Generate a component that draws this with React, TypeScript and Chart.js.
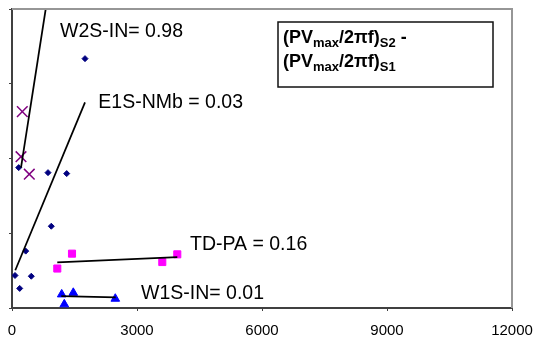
import React, { useEffect, useRef } from "react";
import { Chart, registerables } from "chart.js";

Chart.register(...registerables);

const FONT = '"Liberation Sans", Arial, Helvetica, sans-serif';

// X axis ticks
const xTicks = [0, 3000, 6000, 9000, 12000];
const xMin = 0;
const xMax = 12000;
const yMin = 0;
const yMax = 4;
const yStep = 1;

// Series: navy diamonds
const diamondX = [1752, 161, 864, 1313, 943, 329, 72, 463, 185];
const diamondY = [3.336, 1.878, 1.811, 1.798, 1.094, 0.761, 0.435, 0.425, 0.262];

// Series: purple crosses
const crossX = [247, 216, 415];
const crossY = [2.627, 2.024, 1.79];

// Series: magenta squares
const squareX = [1440, 1087, 3607, 3967];
const squareY = [0.727, 0.528, 0.615, 0.718];

// Series: blue triangles
const triX = [1193, 1471, 1255, 2479];
const triY = [0.182, 0.203, 0.049, 0.124];

// Trend lines (start, end) and their labels
const trendNames = ["W2S-IN= 0.98", "E1S-NMb = 0.03", "TD-PA = 0.16", "W1S-IN= 0.01"];
const trendX = [
  [216, 809],
  [79, 1752],
  [1087, 3967],
  [1183, 2489],
];
const trendY = [
  [1.878, 4.0],
  [0.505, 2.751],
  [0.611, 0.682],
  [0.159, 0.142],
];
const labelX = [1152, 2071, 4272, 3096];
const labelY = [3.628, 2.675, 0.771, 0.12];

// Legend box text: [text, isSubscript]
const boxLine1: [string, boolean][] = [
  ["(PV", false],
  ["max", true],
  ["/2\u03C0f)", false],
  ["S2", true],
  [" -", false],
];
const boxLine2: [string, boolean][] = [
  ["(PV", false],
  ["max", true],
  ["/2\u03C0f)", false],
  ["S1", true],
];

const zip = (xs: number[], ys: number[]) => xs.map((x, i) => ({ x, y: ys[i] }));

const overlayPlugin = {
  id: "overlay",
  afterDraw(chart: any) {
    const { ctx, chartArea: a, scales } = chart;
    ctx.save();
    // gray plot-area border (top & right)
    ctx.strokeStyle = "#969696";
    ctx.lineWidth = 2;
    ctx.beginPath();
    ctx.moveTo(a.left, a.top);
    ctx.lineTo(a.right, a.top);
    ctx.lineTo(a.right, a.bottom);
    ctx.stroke();

    // trend labels
    ctx.fillStyle = "#000";
    ctx.font = `19.5px ${FONT}`;
    ctx.textAlign = "left";
    ctx.textBaseline = "alphabetic";
    trendNames.forEach((t, i) => {
      ctx.fillText(t, scales.x.getPixelForValue(labelX[i]), scales.y.getPixelForValue(labelY[i]));
    });

    // legend box
    const bx = a.right - 234;
    const by = a.top + 13;
    const bw = 215;
    const bh = 65;
    ctx.fillStyle = "#fff";
    ctx.fillRect(bx, by, bw, bh);
    ctx.strokeStyle = "#111";
    ctx.lineWidth = 1.5;
    ctx.strokeRect(bx, by, bw, bh);
    ctx.fillStyle = "#000";
    const drawRich = (segs: [string, boolean][], x: number, y: number) => {
      let cx = x;
      segs.forEach(([t, sub]) => {
        ctx.font = sub ? `bold 13px ${FONT}` : `bold 18px ${FONT}`;
        ctx.fillText(t, cx, y + (sub ? 4 : 0));
        cx += ctx.measureText(t).width;
      });
    };
    drawRich(boxLine1, bx + 5, by + 21);
    drawRich(boxLine2, bx + 5, by + 45);
    ctx.restore();
  },
};

export default function App() {
  const ref = useRef<HTMLCanvasElement | null>(null);

  useEffect(() => {
    if (!ref.current) return;
    const lineDatasets = trendX.map((xs, i) => ({
      label: trendNames[i],
      data: zip(xs, trendY[i]),
      showLine: true,
      borderColor: "#000",
      borderWidth: 1.75,
      pointRadius: 0,
      fill: false,
      order: 0,
    }));
    const chart = new Chart(ref.current, {
      type: "scatter",
      data: {
        datasets: [
          ...lineDatasets,
          {
            label: "diamonds",
            data: zip(diamondX, diamondY),
            pointStyle: "rectRot",
            pointRadius: 3,
            backgroundColor: "#000080",
            borderColor: "#000080",
            borderWidth: 1,
            order: 1,
          },
          {
            label: "crosses",
            data: zip(crossX, crossY),
            pointStyle: "crossRot",
            pointRadius: 7.5,
            backgroundColor: "#800080",
            borderColor: "#800080",
            borderWidth: 1.5,
            order: 1,
          },
          {
            label: "squares",
            data: zip(squareX, squareY),
            pointStyle: "rect",
            pointRadius: 5,
            backgroundColor: "#FF00FF",
            borderColor: "#FF00FF",
            borderWidth: 1,
            order: 1,
          },
          {
            label: "triangles",
            data: zip(triX, triY),
            pointStyle: "triangle",
            pointRadius: 5,
            backgroundColor: "#0000FF",
            borderColor: "#0000FF",
            borderWidth: 1,
            order: 1,
          },
        ] as any,
      },
      options: {
        animation: false,
        responsive: true,
        maintainAspectRatio: false,
        layout: { padding: { top: 7, right: 34, left: 0, bottom: 0 } },
        plugins: {
          legend: { display: false },
          tooltip: { enabled: false },
        },
        scales: {
          x: {
            type: "linear",
            min: xMin,
            max: xMax,
            afterBuildTicks: (s: any) => {
              s.ticks = xTicks.map((v) => ({ value: v }));
            },
            ticks: {
              color: "#000",
              font: { size: 15, family: FONT },
              padding: 11,
              maxRotation: 0,
              autoSkip: false,
              callback: (v: any) => String(v),
            },
            grid: {
              drawOnChartArea: false,
              drawTicks: true,
              tickLength: 3,
              color: "#404040",
              lineWidth: 1,
            },
            border: { color: "#404040", width: 2 },
            afterFit: (s: any) => {
              s.height = 39;
              s.paddingLeft = 0;
              s.paddingRight = 0;
            },
          },
          y: {
            type: "linear",
            min: yMin,
            max: yMax,
            ticks: { stepSize: yStep, display: false },
            grid: {
              drawOnChartArea: false,
              drawTicks: true,
              tickLength: 3,
              color: "#404040",
              lineWidth: 1,
            },
            border: { color: "#404040", width: 2 },
            afterFit: (s: any) => {
              s.width = 12;
            },
          },
        },
      } as any,
      plugins: [overlayPlugin],
    });
    return () => chart.destroy();
  }, []);

  return (
    <div style={{ position: "fixed", left: 0, top: 0, width: 546, height: 347, background: "#fff" }}>
      <canvas ref={ref} />
    </div>
  );
}
